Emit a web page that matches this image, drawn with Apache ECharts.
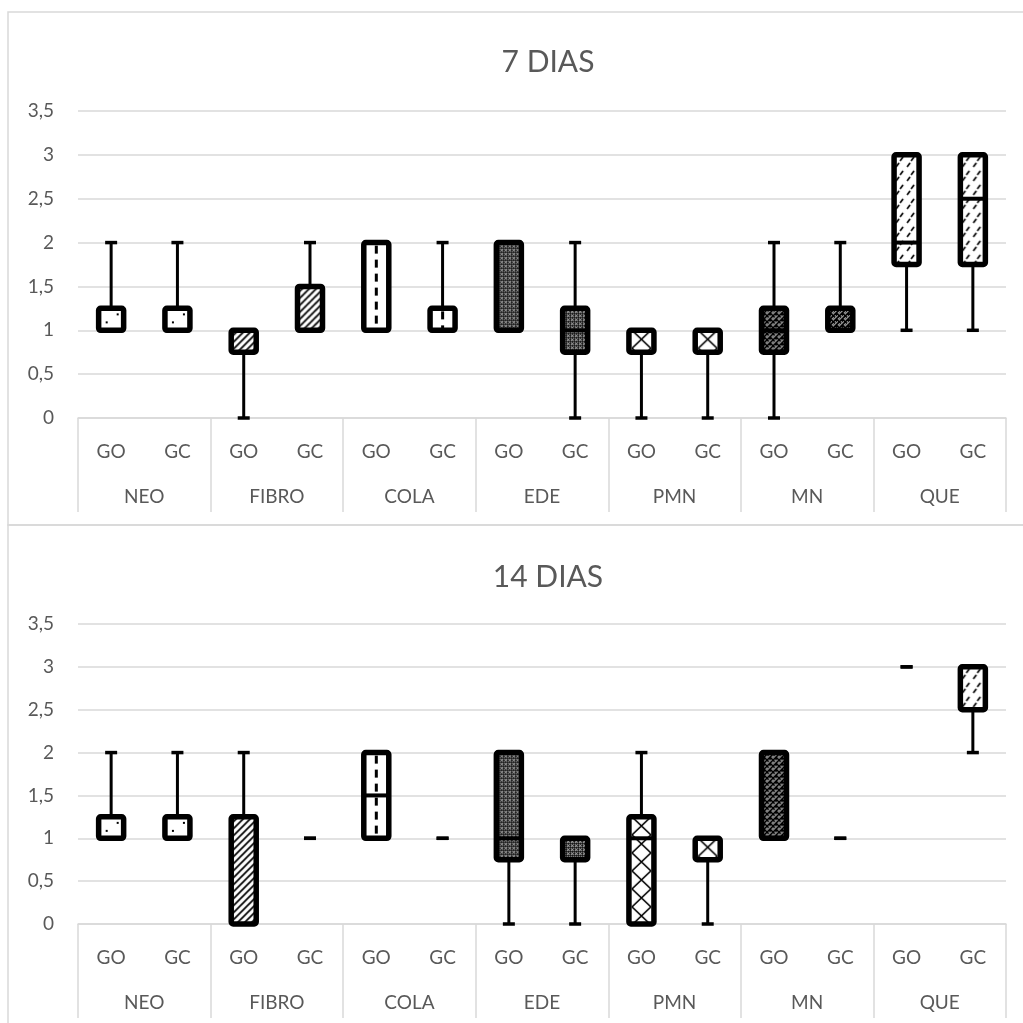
<!DOCTYPE html>
<html><head><meta charset="utf-8">
<script src="https://cdn.jsdelivr.net/npm/echarts@6/dist/echarts.min.js"></script>
<style>html,body{margin:0;padding:0;background:#fff}#c{width:1023px;height:1023px}</style>
</head><body><div id="c"></div>
<script>
const categories = ['GO','GC','GO','GC','GO','GC','GO','GC','GO','GC','GO','GC','GO','GC'];
const groups = ['NEO','FIBRO','COLA','EDE','PMN','MN','QUE'];
const titles = ['7 DIAS', '14 DIAS'];

// 7 DIAS
const d7Min = [1, 1, 0, 1, 1, 1, 1, 0, 0, 0, 0, 1, 1, 1];
const d7Q1  = [1, 1, 0.75, 1, 1, 1, 1, 0.75, 0.75, 0.75, 0.75, 1, 1.75, 1.75];
const d7Med = [1, 1, 1, 1, 1, 1, 1, 1, 1, 1, 1, 1, 2, 2.5];
const d7Q3  = [1.25, 1.25, 1, 1.5, 2, 1.25, 2, 1.25, 1, 1, 1.25, 1.25, 3, 3];
const d7Max = [2, 2, 1, 2, 2, 2, 2, 2, 1, 1, 2, 2, 3, 3];

// 14 DIAS
const d14Min = [1, 1, 0, 1, 1, 1, 0, 0, 0, 0, 1, 1, 3, 2];
const d14Q1  = [1, 1, 0, 1, 1, 1, 0.75, 0.75, 0, 0.75, 1, 1, 3, 2.5];
const d14Med = [1, 1, 0, 1, 1.5, 1, 1, 1, 1, 1, 1, 1, 3, 3];
const d14Q3  = [1.25, 1.25, 1.25, 1, 2, 1, 2, 1, 1.25, 1, 2, 1, 3, 3];
const d14Max = [2, 2, 2, 1, 2, 1, 2, 1, 2, 1, 2, 1, 3, 3];

function tile(w, h, draw) {
  const cv = document.createElement('canvas');
  cv.width = w; cv.height = h;
  const ctx = cv.getContext('2d');
  ctx.fillStyle = '#fff'; ctx.fillRect(0, 0, w, h);
  ctx.fillStyle = '#000'; ctx.strokeStyle = '#000';
  draw(ctx);
  return {image: cv, repeat: 'repeat'};
}
const patterns = [
  // NEO: sparse dots
  tile(25, 16, c => { c.fillRect(18, 5, 2, 2); c.fillRect(7, 13, 2, 2); }),
  // FIBRO: diagonal hatch
  tile(7, 7, c => { c.lineWidth = 1.7; c.beginPath(); c.moveTo(-1, 8); c.lineTo(8, -1); c.moveTo(-2, 2); c.lineTo(2, -2); c.moveTo(5, 9); c.lineTo(9, 5); c.stroke(); }),
  // COLA: vertical dashes
  tile(25, 14, c => { c.fillRect(11, 3, 3, 8); }),
  // EDE: dark fine dots
  tile(4, 4, c => { c.fillRect(0, 0, 4, 4); c.fillStyle = '#fff'; c.fillRect(0, 0, 1, 1); c.fillRect(2, 2, 1, 1); c.fillRect(2, 0, 1, 1); c.fillRect(0, 2, 1, 1); c.fillRect(1, 3, 1, 1); }),
  // PMN: zigzag
  tile(25, 18, c => { c.lineWidth = 1.6; c.beginPath(); c.moveTo(3, 0); c.lineTo(22, 18); c.moveTo(22, 0); c.lineTo(3, 18); c.stroke(); }),
  // MN: larger checker
  tile(6, 6, c => { c.fillRect(0, 0, 6, 6); c.fillStyle = '#fff'; c.fillRect(1, 1, 1, 1); c.fillRect(3, 1, 1, 1); c.fillRect(2, 2, 1, 1); c.fillRect(4, 4, 1, 1); c.fillRect(0, 4, 1, 1); c.fillRect(5, 3, 1, 1); c.fillRect(5, 5, 1, 1); c.fillRect(1, 3, 1, 1); }),
  // QUE: dashed diagonal
  tile(11, 14, c => { c.lineWidth = 1.7; c.beginPath(); c.moveTo(2, 12); c.lineTo(5, 8); c.moveTo(6, 6); c.lineTo(9, 2); c.stroke(); })
];

function renderBox(params, api) {
  const i = api.value(0);
  const cx = api.coord([i, 0])[0];
  const y = k => api.coord([i, api.value(k)])[1];
  const yMin = y(1), yQ1 = y(2), yMed = y(3), yQ3 = y(4), yMax = y(5);
  const ch = [];
  const ls = {stroke: '#000', lineWidth: 3};
  if (yMax < yQ3 - 0.5) ch.push({type: 'line', shape: {x1: cx, y1: yQ3, x2: cx, y2: yMax}, style: ls});
  if (yMin > yQ1 + 0.5) ch.push({type: 'line', shape: {x1: cx, y1: yQ1, x2: cx, y2: yMin}, style: ls});
  ch.push({type: 'line', shape: {x1: cx - 6, y1: yMax, x2: cx + 6, y2: yMax}, style: {stroke: '#000', lineWidth: 3.5}});
  ch.push({type: 'line', shape: {x1: cx - 6, y1: yMin, x2: cx + 6, y2: yMin}, style: {stroke: '#000', lineWidth: 3.5}});
  if (yQ1 - yQ3 > 0.5) {
    ch.push({type: 'rect', x: cx - 12.5, y: yQ3, shape: {x: 0, y: 0, width: 25, height: yQ1 - yQ3, r: 2},
      style: {fill: patterns[Math.floor(i / 2)], stroke: '#000', lineWidth: 5.5}});
    ch.push({type: 'line', shape: {x1: cx - 12, y1: yMed, x2: cx + 12, y2: yMed}, style: {stroke: '#000', lineWidth: 4}});
  }
  return {type: 'group', children: ch};
}

const panels = [
  {min: d7Min, q1: d7Q1, med: d7Med, q3: d7Q3, max: d7Max, top: 111, height: 307},
  {min: d14Min, q1: d14Q1, med: d14Med, q3: d14Q3, max: d14Max, top: 624, height: 300}
];
const labelColor = '#595959';
const gridColor = '#d9d9d9';
const font = 'Lato';

const option = {
  animation: false,
  grid: panels.map(p => ({left: 78, right: 17, top: p.top, height: p.height})),
  xAxis: [],
  yAxis: [],
  series: [],
  graphic: []
};
panels.forEach((p, g) => {
  option.xAxis.push({
    type: 'category', gridIndex: g, position: 'bottom', data: categories, boundaryGap: true,
    axisLine: {show: true, lineStyle: {color: gridColor, width: 1.5}},
    axisTick: {show: false},
    axisLabel: {color: labelColor, fontSize: 19, fontFamily: font, margin: 24, interval: 0}
  });
  option.xAxis.push({
    type: 'category', gridIndex: g, position: 'bottom', data: groups, boundaryGap: true,
    axisLine: {show: false},
    axisTick: {show: true, length: 94, lineStyle: {color: gridColor, width: 1.5}},
    axisLabel: {color: labelColor, fontSize: 19, fontFamily: font, margin: 69, interval: 0}
  });
  option.yAxis.push({
    type: 'value', gridIndex: g, min: 0, max: 3.5, interval: 0.5,
    axisLine: {show: false}, axisTick: {show: false},
    splitLine: {lineStyle: {color: gridColor, width: 1.5}},
    axisLabel: {color: labelColor, fontSize: 19, fontFamily: font, margin: 24,
      formatter: v => String(v).replace('.', ',')}
  });
  option.series.push({
    type: 'custom', xAxisIndex: g * 2, yAxisIndex: g, renderItem: renderBox,
    encode: {x: 0, y: [1, 2, 3, 4, 5]},
    data: p.min.map((v, i) => [i, v, p.q1[i], p.med[i], p.q3[i], p.max[i]])
  });
});
option.graphic = [
  {type: 'rect', shape: {x: 8, y: 12, width: 1100, height: 513}, style: {fill: 'none', stroke: gridColor, lineWidth: 1.5}, silent: true},
  {type: 'rect', shape: {x: 8, y: 525, width: 1100, height: 600}, style: {fill: 'none', stroke: gridColor, lineWidth: 1.5}, silent: true},
  {type: 'text', x: 548, y: 62, style: {text: titles[0], fill: labelColor, font: '30px Lato', textAlign: 'center', textVerticalAlign: 'middle'}},
  {type: 'text', x: 548, y: 577, style: {text: titles[1], fill: labelColor, font: '30px Lato', textAlign: 'center', textVerticalAlign: 'middle'}}
];
const chart = echarts.init(document.getElementById('c'), null, {renderer: 'canvas'});
chart.setOption(option);
</script></body></html>
